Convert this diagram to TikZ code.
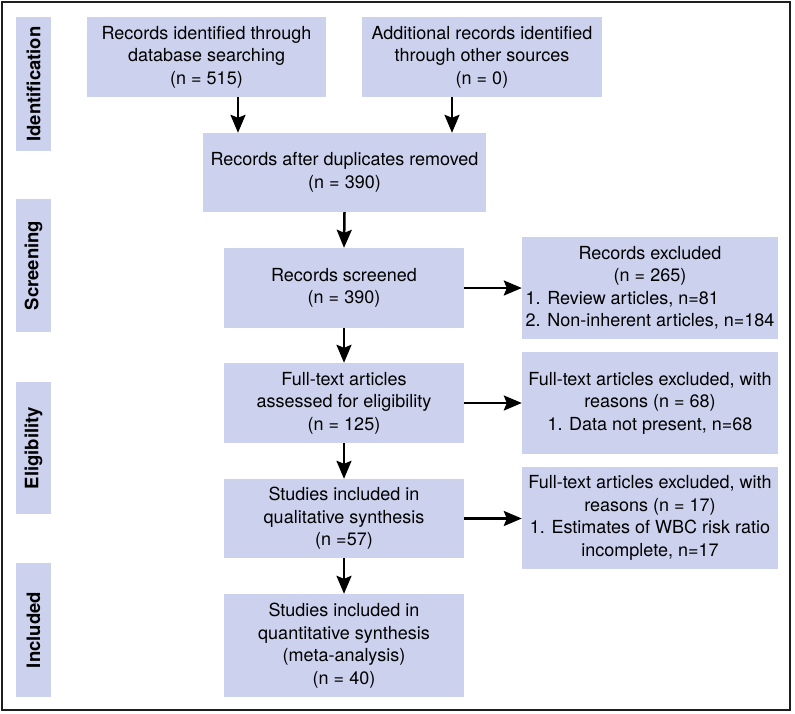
\documentclass[tikz,border=0pt]{standalone}
\usepackage{fontspec}
\setmainfont{TeX Gyre Heros}
\usetikzlibrary{arrows.meta}
\definecolor{boxfill}{RGB}{204,210,238}
\definecolor{frame}{RGB}{30,30,30}
\tikzset{
  box/.style={fill=boxfill, inner sep=0pt, align=center, font=\fontsize{18}{22.5}\selectfont},
  side/.style={fill=boxfill, inner sep=0pt, rotate=90, minimum height=35pt, font=\fontsize{18.5}{22}\selectfont\bfseries},
  arr/.style={line width=2.5pt, -{Stealth[length=18pt,width=15pt,inset=3pt]}}
}
\begin{document}
\begin{tikzpicture}[x=1pt,y=-1pt]
\useasboundingbox (0,0) rectangle (795,713);
\draw[frame, line width=2pt] (2,2) rectangle (790,710);

% side labels
\node[side, minimum width=134pt] (sid) at (33.5,84) {Identification};
\node[side, minimum width=133pt] (sscr) at (33.5,265.5) {Screening};
\node[side, minimum width=132pt] (selig) at (33.5,448) {Eligibility};
\node[side, minimum width=134pt] (sinc) at (33.5,630) {Included};

% main boxes
\node[box, minimum width=239pt, minimum height=80pt] (db) at (206.5,57) {Records identified through\\database searching\\(n = 515)};
\node[box, minimum width=240pt, minimum height=80pt] (other) at (482,57) {Additional records identified\\through other sources\\(n = 0)};
\node[box, minimum width=283pt, minimum height=79pt] (dup) at (344.5,172.5) {Records after duplicates removed\\(n = 390)};
\node[box, minimum width=240pt, minimum height=80pt] (scr) at (344,288) {Records screened\\(n = 390)};
\node[box, minimum width=240pt, minimum height=80pt] (full) at (344,403) {Full-text articles\\assessed for eligibility\\(n = 125)};
\node[box, minimum width=240pt, minimum height=79pt] (qual) at (344,518.5) {Studies included in\\qualitative synthesis\\(n =57)};
\node[box, minimum width=240pt, minimum height=103pt] (quant) at (344,645.5) {Studies included in\\quantitative synthesis\\(meta-analysis)\\(n = 40)};

% exclusion boxes
\node[box, minimum width=256pt, minimum height=102pt] (ex1) at (650,288) {Records excluded\\(n = 265)\\\rlap{1. Review articles, n=81}\phantom{2. Non-inherent articles, n=184}\\2. Non-inherent articles, n=184};
\node[box, minimum width=256pt, minimum height=102pt] (ex2) at (650,403) {Full-text articles excluded, with\\reasons (n = 68)\\1. Data not present, n=68};
\node[box, minimum width=256pt, minimum height=102pt] (ex3) at (650,518) {Full-text articles excluded, with\\reasons (n = 17)\\1. Estimates of WBC risk ratio\\incomplete, n=17};

% arrows
\coordinate (c1) at (238,0);
\coordinate (c2) at (452,0);
\draw[arr] (db.south -| c1) -- (dup.north -| c1);
\draw[arr] (other.south -| c2) -- (dup.north -| c2);
\draw[arr] (dup.south) -- (scr.north);
\draw[arr] (scr.south) -- (full.north);
\draw[arr] (full.south) -- (qual.north);
\draw[arr] (qual.south) -- (quant.north);
\draw[arr] (scr.east) -- (scr.east -| ex1.west);
\draw[arr] (full.east) -- (full.east -| ex2.west);
\draw[arr] (qual.east) -- (qual.east -| ex3.west);
\end{tikzpicture}
\end{document}
